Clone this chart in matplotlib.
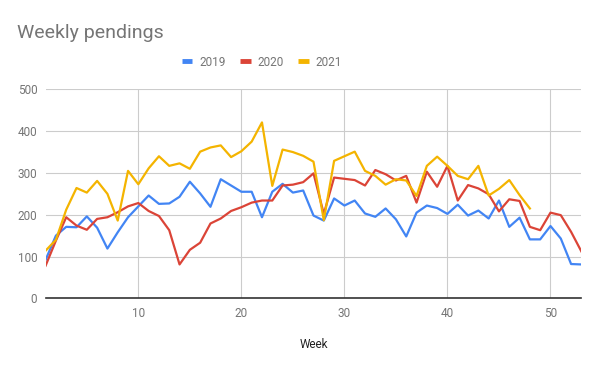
import matplotlib
matplotlib.use("Agg")
import matplotlib.pyplot as plt
from matplotlib.lines import Line2D

plt.rcParams['font.family'] = ['Roboto', 'DejaVu Sans']

weeks = list(range(1, 54))
weeks_2021 = list(range(1, 49))

s2019 = [92, 150, 171, 170, 196, 169, 119, 158, 194, 220,
         246, 226, 227, 243, 279, 251, 219, 285, 270, 255,
         255, 194, 255, 274, 253, 258, 198, 186, 239, 222,
         234, 203, 195, 215, 189, 148, 205, 222, 216, 202,
         224, 198, 210, 191, 234, 171, 193, 141, 141, 173,
         143, 82, 81]
s2020 = [78, 138, 194, 174, 164, 190, 194, 206, 220, 228,
         209, 197, 163, 81, 116, 133, 179, 191, 209, 218,
         229, 234, 234, 270, 272, 278, 299, 202, 289, 286,
         283, 270, 307, 297, 282, 293, 229, 303, 267, 317,
         234, 271, 263, 249, 208, 237, 233, 171, 163, 205,
         199, 159, 112]
s2021 = [114, 140, 212, 264, 253, 281, 250, 186, 305, 273,
         311, 340, 317, 323, 310, 351, 361, 366, 338, 352,
         375, 421, 269, 356, 350, 341, 327, 187, 329, 340,
         351, 305, 293, 272, 285, 282, 245, 317, 339, 317,
         293, 285, 317, 246, 262, 283, 247, 215]

series_names = ['2019', '2020', '2021']
colors = ['#4285F4', '#DB4437', '#F4B400']
yticks = [0, 100, 200, 300, 400, 500]
xticks = [10, 20, 30, 40, 50]

fig = plt.figure(figsize=(6.0, 3.71), dpi=100)
ax = fig.add_axes([0.076, 0.196, 0.893, 0.563])

ax.plot(weeks, s2019, color=colors[0], lw=1.6, zorder=3)
ax.plot(weeks, s2020, color=colors[1], lw=1.6, zorder=3)
ax.plot(weeks_2021, s2021, color=colors[2], lw=1.6, zorder=3)

ax.set_xlim(1, 53)
ax.set_ylim(0, 500)
ax.set_yticks(yticks)
ax.set_xticks(xticks)
ax.grid(True, color='#cccccc', lw=0.8, zorder=0)
for s in ['top', 'right', 'left']:
    ax.spines[s].set_visible(False)
ax.spines['bottom'].set_color('#333333')
ax.spines['bottom'].set_linewidth(1.2)
ax.spines['bottom'].set_zorder(4)
ax.tick_params(axis='both', length=0, labelsize=8.5, labelcolor='#757575')
ax.tick_params(axis='y', pad=6)
ax.tick_params(axis='x', pad=6)

fig.text(17 / 600, 1 - 33 / 371, 'Weekly pendings', fontsize=14,
         color='#757575', ha='left', va='center')
fig.text(314 / 600, 1 - 345 / 371, 'Week', fontsize=8.5, color='#222222',
         ha='center', va='center')

handles = [Line2D([], [], color=c, lw=3.5, solid_capstyle='butt') for c in colors]
leg = fig.legend(handles, series_names, loc='center', bbox_to_anchor=(262 / 600, 1 - 62 / 371),
                 ncol=3, frameon=False, fontsize=8.5, handlelength=0.9,
                 handletextpad=0.6, columnspacing=1.2, labelcolor='#757575')

fig.savefig('out.png', dpi=100)
